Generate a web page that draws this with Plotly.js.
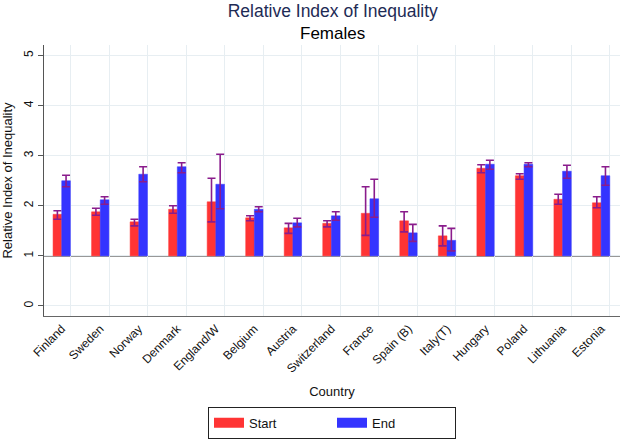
<!DOCTYPE html>
<html>
<head>
<meta charset="utf-8">
<script src="https://cdn.plot.ly/plotly-3.0.1.min.js"></script>
<style>
  html, body { margin: 0; padding: 0; background: #fff; }
  #chart { width: 622px; height: 439px; }
</style>
</head>
<body>
<div id="chart"></div>
<script>
// countries in plotting order
const countries = ['Finland', 'Sweden', 'Norway', 'Denmark', 'England/W', 'Belgium', 'Austria',
  'Switzerland', 'France', 'Spain (B)', 'Italy(T)', 'Hungary', 'Poland', 'Lithuania', 'Estonia'];

// RII point estimates and confidence limits, start and end of period
const startRII = [1.83, 1.88, 1.68, 1.93, 2.08, 1.76, 1.56, 1.65, 1.85, 1.70, 1.40, 2.75, 2.60, 2.13, 2.06];
const startLo  = [1.73, 1.81, 1.60, 1.85, 1.68, 1.70, 1.45, 1.58, 1.41, 1.48, 1.20, 2.66, 2.53, 2.03, 1.96];
const startHi  = [1.90, 1.95, 1.73, 2.00, 2.55, 1.80, 1.65, 1.70, 2.38, 1.88, 1.60, 2.82, 2.64, 2.23, 2.18];

const endRII = [2.50, 2.12, 2.63, 2.78, 2.43, 1.93, 1.66, 1.80, 2.14, 1.46, 1.31, 2.83, 2.83, 2.69, 2.60];
const endLo  = [2.38, 2.03, 2.48, 2.66, 1.94, 1.88, 1.58, 1.71, 1.77, 1.29, 1.10, 2.73, 2.78, 2.55, 2.41];
const endHi  = [2.61, 2.18, 2.78, 2.86, 3.03, 1.98, 1.75, 1.88, 2.53, 1.63, 1.55, 2.91, 2.86, 2.81, 2.78];

const baseline = 1;   // bars start from RII = 1
const pos = countries.map((c, i) => i + 1);

const errColor = '#8a1c8c';
const font = 'Liberation Sans, Arial, Helvetica, sans-serif';

const makeBars = (name, vals, lo, hi, color, offset) => ({
  type: 'bar',
  name: name,
  x: pos,
  y: vals.map(v => v - baseline),
  base: baseline,
  width: 0.225,
  offset: offset,
  marker: {color: color, line: {color: color, width: 0.5}},
  error_y: {
    type: 'data',
    symmetric: false,
    array: hi.map((h, i) => h - vals[i]),
    arrayminus: vals.map((v, i) => v - lo[i]),
    color: errColor,
    thickness: 1.6,
    width: 4
  },
  showlegend: false,
  hoverinfo: 'skip'
});

// empty line traces only used for the wide legend swatches
const legendKey = (name, color) => ({
  type: 'scatter',
  mode: 'lines',
  name: name,
  x: [null],
  y: [null],
  line: {color: color, width: 16}
});

const data = [
  makeBars('Start', startRII, startLo, startHi, '#ff3434', -0.455),
  makeBars('End', endRII, endLo, endHi, '#3434ff', -0.23),
  legendKey('Start', '#ff3434'),
  legendKey('End', '#3434ff')
];

const layout = {
  width: 622,
  height: 439,
  margin: {l: 44, r: 2, t: 45, b: 122},
  paper_bgcolor: '#fff',
  plot_bgcolor: '#fff',
  font: {family: font, color: '#111', size: 12},
  barmode: 'overlay',
  title: {
    text: 'Relative Index of Inequality',
    font: {size: 17.5, color: '#1e2b55', family: font},
    x: 0.535, xanchor: 'center',
    y: 0.975, yanchor: 'middle'
  },
  annotations: [{
    text: 'Females',
    xref: 'paper', yref: 'paper',
    x: 0.5, y: 1.044,
    xanchor: 'center', yanchor: 'middle',
    showarrow: false,
    font: {size: 17, color: '#000', family: font}
  }],
  xaxis: {
    range: [0.31, 15.26],
    tickmode: 'array',
    tickvals: pos.map(p => p - 0.23),
    ticktext: countries,
    tickangle: -45,
    tickfont: {size: 12, color: '#111'},
    ticks: '',
    showgrid: false,
    zeroline: false,
    showline: true,
    linecolor: '#666',
    linewidth: 1.2,
    minor: {tickmode: 'array', tickvals: pos, showgrid: true, gridcolor: '#e7eef2', gridwidth: 1, ticks: ''},
    title: {text: 'Country', font: {size: 13, color: '#111'}, standoff: 12}
  },
  yaxis: {
    range: [-0.2, 5.21],
    tickmode: 'array',
    tickvals: [0, 1, 2, 3, 4, 5],
    tickangle: -90,
    ticks: 'outside',
    ticklen: 5,
    tickcolor: '#555',
    tickfont: {size: 12, color: '#111'},
    showgrid: true,
    gridcolor: '#e7eef2',
    zeroline: false,
    showline: true,
    linecolor: '#555',
    linewidth: 1,
    title: {text: 'Relative Index of Inequality', font: {size: 13, color: '#111'}, standoff: 6}
  },
  shapes: [{
    type: 'line', xref: 'paper', x0: 0, x1: 1, yref: 'y', y0: baseline, y1: baseline,
    line: {color: '#333', width: 1.3}, layer: 'below'
  }],
  legend: {
    orientation: 'h',
    x: 0.5, xanchor: 'center',
    y: -0.33, yanchor: 'top',
    bordercolor: '#222',
    borderwidth: 1,
    bgcolor: '#fff',
    font: {size: 13, color: '#111'},
    entrywidth: 78,
    itemwidth: 30
  },
  showlegend: true
};

Plotly.newPlot(document.getElementById('chart'), data, layout, {displayModeBar: false, responsive: false});
</script>
</body>
</html>
